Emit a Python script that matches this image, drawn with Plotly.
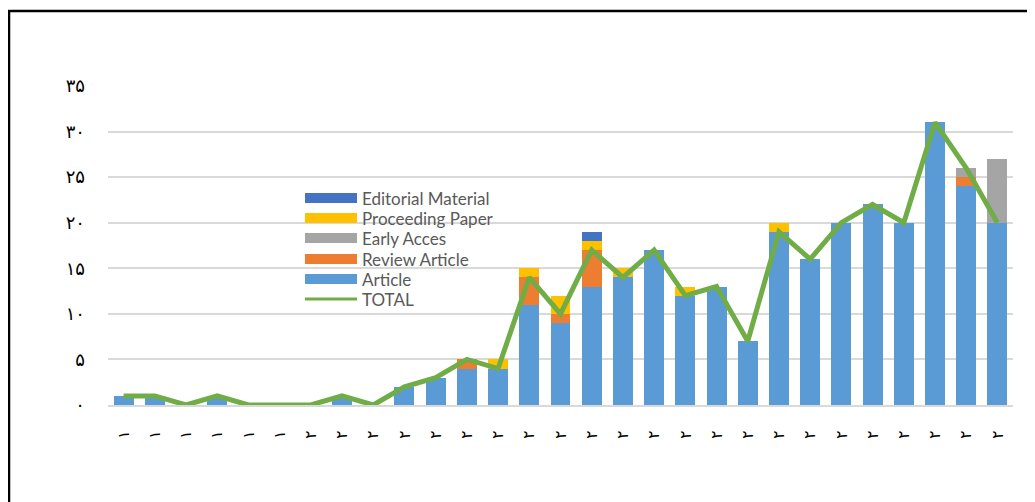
import plotly.graph_objects as go

years = ["۱۹۹۴", "۱۹۹۵", "۱۹۹۶", "۱۹۹۷", "۱۹۹۸", "۱۹۹۹", "۲۰۰۰", "۲۰۰۱", "۲۰۰۲", "۲۰۰۳",
         "۲۰۰۴", "۲۰۰۵", "۲۰۰۶", "۲۰۰۷", "۲۰۰۸", "۲۰۰۹", "۲۰۱۰", "۲۰۱۱", "۲۰۱۲", "۲۰۱۳",
         "۲۰۱۴", "۲۰۱۵", "۲۰۱۶", "۲۰۱۷", "۲۰۱۸", "۲۰۱۹", "۲۰۲۰", "۲۰۲۱", "۲۰۲۲"]
x_tick_text = ["۱", "۱", "۱", "۱", "۱", "۱", "۲", "۲", "۲", "۲",
               "۲", "۲", "۲", "۲", "۲", "۲", "۲", "۲", "۲", "۲",
               "۲", "۲", "۲", "۲", "۲", "۲", "۲", "۲", "۲"]

article = [1, 1, 0, 1, 0, 0, 0, 1, 0, 2, 3, 4, 4, 11, 9, 13, 14, 17, 12, 13, 7, 19, 16, 20, 22, 20, 31, 24, 20]
review = [0, 0, 0, 0, 0, 0, 0, 0, 0, 0, 0, 1, 0, 3, 1, 4, 0, 0, 0, 0, 0, 0, 0, 0, 0, 0, 0, 1, 0]
early = [0, 0, 0, 0, 0, 0, 0, 0, 0, 0, 0, 0, 0, 0, 0, 0, 0, 0, 0, 0, 0, 0, 0, 0, 0, 0, 0, 1, 7]
proceeding = [0, 0, 0, 0, 0, 0, 0, 0, 0, 0, 0, 0, 1, 1, 2, 1, 1, 0, 1, 0, 0, 1, 0, 0, 0, 0, 0, 0, 0]
editorial = [0, 0, 0, 0, 0, 0, 0, 0, 0, 0, 0, 0, 0, 0, 0, 1, 0, 0, 0, 0, 0, 0, 0, 0, 0, 0, 0, 0, 0]
total = [1, 1, 0, 1, 0, 0, 0, 1, 0, 2, 3, 5, 4, 14, 10, 17, 14, 17, 12, 13, 7, 19, 16, 20, 22, 20, 31, 26, 20]

y_tick_vals = [0, 5, 10, 15, 20, 25, 30, 35]
y_tick_text = ["۰", "۵", "۱۰", "۱۵", "۲۰", "۲۵", "۳۰", "۳۵"]

legend_names = ["Editorial Material", "Proceeding Paper", "Early Acces", "Review Article", "Article", "TOTAL"]

colors = {
    "Article": "#5B9BD5",
    "Review Article": "#ED7D31",
    "Early Acces": "#A5A5A5",
    "Proceeding Paper": "#FFC000",
    "Editorial Material": "#4472C4",
    "TOTAL": "#70AD47",
}

fig = go.Figure()
series = [
    ("Article", article),
    ("Review Article", review),
    ("Early Acces", early),
    ("Proceeding Paper", proceeding),
    ("Editorial Material", editorial),
]
for name, vals in series:
    fig.add_trace(go.Bar(x=years, y=vals, name=name, marker_color=colors[name],
                         marker_line_width=0, showlegend=False))
fig.add_trace(go.Scatter(x=years, y=total, name="TOTAL", mode="lines",
                         line=dict(color=colors["TOTAL"], width=5), showlegend=False))

# page geometry (the page has an 8px body margin)
W, H = 1027, 494
L, R, T, B = 100, 22, 78, 97
PW, PH = W - L - R, H - T - B
OFF = 8


def px(xp):
    return (xp - OFF - L) / PW


def py(yp):
    return (H - B - (yp - OFF)) / PH


shapes = [dict(type="rect", xref="paper", yref="paper",
               x0=px(9), x1=px(1045), y0=py(512), y1=py(11),
               line=dict(color="black", width=2.5), layer="below")]
annotations = []
row_y = [198, 218, 238, 259, 279, 299]
for name, yy in zip(legend_names, row_y):
    if name == "TOTAL":
        shapes.append(dict(type="line", xref="paper", yref="paper",
                           x0=px(305), x1=px(357), y0=py(yy), y1=py(yy),
                           line=dict(color=colors[name], width=3)))
    else:
        shapes.append(dict(type="rect", xref="paper", yref="paper",
                           x0=px(305), x1=px(357), y0=py(yy + 5), y1=py(yy - 5),
                           fillcolor=colors[name], line=dict(width=0)))
    annotations.append(dict(xref="paper", yref="paper", x=px(360), y=py(yy),
                            xanchor="left", yanchor="middle", showarrow=False,
                            text=name, font=dict(family="Lato", size=17, color="#595959")))

fig.update_layout(
    width=W, height=H,
    margin=dict(l=L, r=R, t=T, b=B),
    barmode="stack", bargap=0.36,
    plot_bgcolor="white", paper_bgcolor="white",
    showlegend=False,
    xaxis=dict(tickmode="array", tickvals=years, ticktext=x_tick_text,
               tickangle=-90, ticklabelstandoff=17,
               tickfont=dict(family="DejaVu Sans", size=16, color="black"),
               showline=True, linecolor="#D9D9D9", linewidth=2,
               showgrid=False, ticks=""),
    yaxis=dict(range=[0, 35], tickmode="array", tickvals=y_tick_vals, ticktext=y_tick_text,
               tickfont=dict(family="DejaVu Sans", size=18, color="black"),
               ticklabelstandoff=22,
               showgrid=True, gridcolor="#D9D9D9", gridwidth=1.5,
               zeroline=False, showline=False, ticks=""),
    shapes=shapes,
    annotations=annotations,
)

fig.write_html("out.html")
